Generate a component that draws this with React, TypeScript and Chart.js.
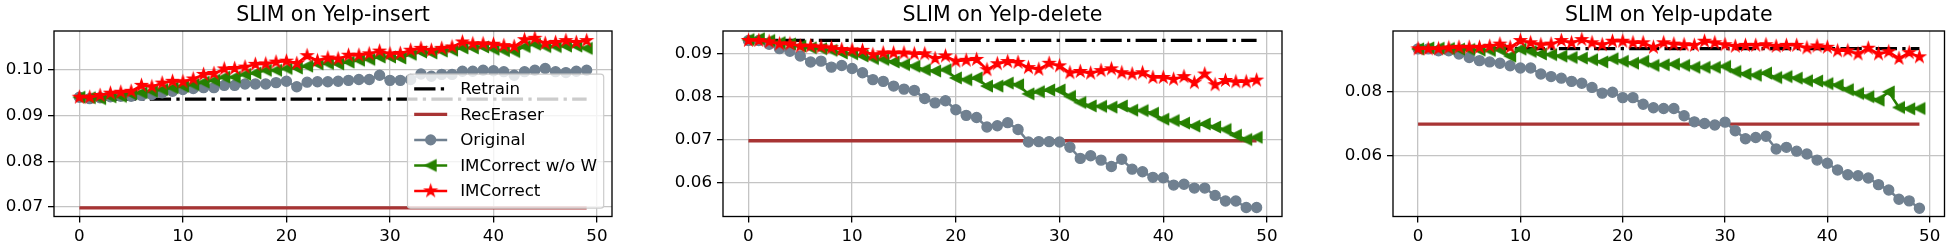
import React, { useEffect, useRef } from 'react';
import { Chart, registerables } from 'chart.js';
Chart.register(...registerables);

const FONT = '"DejaVu Sans", "Liberation Sans", sans-serif';

const steps = [0, 1, 2, 3, 4, 5, 6, 7, 8, 9, 10, 11, 12, 13, 14, 15, 16, 17, 18, 19, 20, 21, 22, 23, 24, 25, 26, 27, 28, 29, 30, 31, 32, 33, 34, 35, 36, 37, 38, 39, 40, 41, 42, 43, 44, 45, 46, 47, 48, 49];
const xTicks = [0, 10, 20, 30, 40, 50];
const xTickLabels = ['0', '10', '20', '30', '40', '50'];

const seriesNames = ['Retrain', 'RecEraser', 'Original', 'IMCorrect w/o W', 'IMCorrect'];

// ---- SLIM on Yelp-insert ----
const insertTitle = 'SLIM on Yelp-insert';
const insertRetrain = 0.0936;
const insertRecEraser = 0.0698;
const insertOriginal = [0.0940, 0.0937, 0.0939, 0.0941, 0.0942, 0.0942, 0.0944, 0.0946, 0.0950, 0.0953, 0.0957, 0.0959, 0.0961, 0.0961, 0.0966, 0.0966, 0.0969, 0.0969, 0.0969, 0.0972, 0.0975, 0.0963, 0.0973, 0.0974, 0.0974, 0.0975, 0.0977, 0.0979, 0.0979, 0.0988, 0.0977, 0.0977, 0.0979, 0.0991, 0.0986, 0.0990, 0.0990, 0.0997, 0.0997, 0.0999, 0.0998, 0.0996, 0.0988, 0.0996, 0.0999, 0.1003, 0.0996, 0.0994, 0.0997, 0.0999];
const insertWoW = [0.0940, 0.0939, 0.0937, 0.0941, 0.0942, 0.0947, 0.0950, 0.0953, 0.0957, 0.0961, 0.0964, 0.0968, 0.0973, 0.0977, 0.0984, 0.0984, 0.0990, 0.0993, 0.0999, 0.0999, 0.1003, 0.1004, 0.1008, 0.1013, 0.1014, 0.1013, 0.1017, 0.1021, 0.1023, 0.1028, 0.1028, 0.1026, 0.1034, 0.1039, 0.1037, 0.1041, 0.1043, 0.1048, 0.1048, 0.1050, 0.1045, 0.1042, 0.1040, 0.1051, 0.1056, 0.1051, 0.1051, 0.1052, 0.1052, 0.1047];
const insertIM = [0.0940, 0.0940, 0.0944, 0.0949, 0.0951, 0.0953, 0.0966, 0.0963, 0.0971, 0.0975, 0.0974, 0.0980, 0.0990, 0.0992, 0.1002, 0.1003, 0.1006, 0.1012, 0.1013, 0.1017, 0.1019, 0.1014, 0.1031, 0.1020, 0.1026, 0.1024, 0.1032, 0.1032, 0.1035, 0.1041, 0.1035, 0.1036, 0.1043, 0.1047, 0.1043, 0.1047, 0.1050, 0.1061, 0.1057, 0.1057, 0.1056, 0.1053, 0.1051, 0.1066, 0.1069, 0.1058, 0.1060, 0.1064, 0.1060, 0.1064];
const insertYTicks = [0.07, 0.08, 0.09, 0.10];
const insertYLabels = ['0.07', '0.08', '0.09', '0.10'];

// ---- SLIM on Yelp-delete ----
const deleteTitle = 'SLIM on Yelp-delete';
const deleteRetrain = 0.0931;
const deleteRecEraser = 0.0698;
const deleteOriginal = [0.0931, 0.0931, 0.0922, 0.0912, 0.0906, 0.0895, 0.0881, 0.0883, 0.0869, 0.0873, 0.0866, 0.0856, 0.0840, 0.0836, 0.0825, 0.0818, 0.0815, 0.0796, 0.0786, 0.0791, 0.0770, 0.0757, 0.0752, 0.0730, 0.0733, 0.0740, 0.0724, 0.0695, 0.0696, 0.0696, 0.0695, 0.0683, 0.0657, 0.0663, 0.0653, 0.0638, 0.0655, 0.0632, 0.0626, 0.0613, 0.0612, 0.0595, 0.0597, 0.0588, 0.0588, 0.0571, 0.0558, 0.0558, 0.0543, 0.0543];
const deleteWoW = [0.0933, 0.0935, 0.0931, 0.0926, 0.0923, 0.0918, 0.0914, 0.0912, 0.0908, 0.0902, 0.0900, 0.0895, 0.0889, 0.0887, 0.0881, 0.0875, 0.0871, 0.0863, 0.0860, 0.0863, 0.0844, 0.0840, 0.0844, 0.0825, 0.0825, 0.0832, 0.0828, 0.0807, 0.0812, 0.0816, 0.0816, 0.0801, 0.0787, 0.0779, 0.0778, 0.0776, 0.0779, 0.0769, 0.0768, 0.0762, 0.0748, 0.0745, 0.0739, 0.0732, 0.0737, 0.0730, 0.0724, 0.0711, 0.0701, 0.0706];
const deleteIM = [0.0931, 0.0931, 0.0928, 0.0923, 0.0923, 0.0918, 0.0918, 0.0916, 0.0914, 0.0910, 0.0909, 0.0908, 0.0898, 0.0902, 0.0902, 0.0902, 0.0900, 0.0900, 0.0889, 0.0895, 0.0883, 0.0885, 0.0887, 0.0863, 0.0877, 0.0882, 0.0880, 0.0868, 0.0864, 0.0878, 0.0872, 0.0856, 0.0859, 0.0855, 0.0861, 0.0865, 0.0856, 0.0853, 0.0856, 0.0845, 0.0845, 0.0841, 0.0847, 0.0833, 0.0853, 0.0828, 0.0838, 0.0835, 0.0835, 0.0839];
const deleteYTicks = [0.06, 0.07, 0.08, 0.09];
const deleteYLabels = ['0.06', '0.07', '0.08', '0.09'];

// ---- SLIM on Yelp-update ----
const updateTitle = 'SLIM on Yelp-update';
const updateRetrain = 0.0935;
const updateRecEraser = 0.0698;
const updateOriginal = [0.0934, 0.0934, 0.0928, 0.0928, 0.0918, 0.0907, 0.0897, 0.0893, 0.0889, 0.0881, 0.0874, 0.0874, 0.0855, 0.0847, 0.0842, 0.0832, 0.0826, 0.0813, 0.0795, 0.0798, 0.0781, 0.0781, 0.0760, 0.0749, 0.0747, 0.0747, 0.0724, 0.0705, 0.0700, 0.0695, 0.0704, 0.0677, 0.0652, 0.0656, 0.0660, 0.0620, 0.0625, 0.0613, 0.0604, 0.0585, 0.0575, 0.0554, 0.0539, 0.0536, 0.0529, 0.0508, 0.0491, 0.0462, 0.0457, 0.0434];
const updateWoW = [0.0934, 0.0937, 0.0936, 0.0935, 0.0933, 0.0932, 0.0930, 0.0929, 0.0931, 0.0911, 0.0933, 0.0926, 0.0918, 0.0916, 0.0911, 0.0907, 0.0905, 0.0900, 0.0893, 0.0903, 0.0895, 0.0889, 0.0895, 0.0882, 0.0884, 0.0886, 0.0882, 0.0876, 0.0876, 0.0876, 0.0879, 0.0863, 0.0855, 0.0851, 0.0858, 0.0844, 0.0847, 0.0842, 0.0834, 0.0833, 0.0825, 0.0820, 0.0806, 0.0794, 0.0784, 0.0773, 0.0799, 0.0750, 0.0746, 0.0747];
const updateIM = [0.0934, 0.0934, 0.0934, 0.0937, 0.0939, 0.0939, 0.0939, 0.0942, 0.0949, 0.0939, 0.0960, 0.0953, 0.0947, 0.0949, 0.0960, 0.0953, 0.0963, 0.0953, 0.0947, 0.0958, 0.0958, 0.0953, 0.0953, 0.0939, 0.0953, 0.0949, 0.0947, 0.0945, 0.0958, 0.0953, 0.0947, 0.0942, 0.0945, 0.0945, 0.0947, 0.0942, 0.0945, 0.0945, 0.0937, 0.0943, 0.0939, 0.0928, 0.0928, 0.0918, 0.0936, 0.0918, 0.0925, 0.0904, 0.0922, 0.0909];
const updateYTicks = [0.06, 0.08];
const updateYLabels = ['0.06', '0.08'];

const COLORS = {
  retrain: '#000000',
  receraser: '#a83434',
  original: '#708090',
  wow: '#268000',
  im: '#ff0000',
};

type PanelSpec = {
  title: string;
  retrain: number;
  receraser: number;
  original: number[];
  wow: number[];
  im: number[];
  yTicks: number[];
  yLabels: string[];
  yMin: number;
  yMax: number;
  left: number;
  width: number;
  axisW: number;
  padRight: number;
  legend: boolean;
};

const panels: PanelSpec[] = [
  { title: insertTitle, retrain: insertRetrain, receraser: insertRecEraser, original: insertOriginal, wow: insertWoW, im: insertIM, yTicks: insertYTicks, yLabels: insertYLabels, yMin: 0.0679, yMax: 0.1085, left: 0, width: 650, axisW: 54, padRight: 38, legend: true },
  { title: deleteTitle, retrain: deleteRetrain, receraser: deleteRecEraser, original: deleteOriginal, wow: deleteWoW, im: deleteIM, yTicks: deleteYTicks, yLabels: deleteYLabels, yMin: 0.0522, yMax: 0.0953, left: 650, width: 650, axisW: 73, padRight: 18, legend: false },
  { title: updateTitle, retrain: updateRetrain, receraser: updateRecEraser, original: updateOriginal, wow: updateWoW, im: updateIM, yTicks: updateYTicks, yLabels: updateYLabels, yMin: 0.0408, yMax: 0.0990, left: 1300, width: 652, axisW: 93, padRight: 2, legend: false },
];

function makeStar(color: string, R: number, lw: number): HTMLCanvasElement {
  const size = Math.ceil(2 * (R + lw)) + 2;
  const c = document.createElement('canvas');
  c.width = size; c.height = size;
  const ctx = c.getContext('2d')!;
  ctx.translate(size / 2, size / 2);
  ctx.beginPath();
  const r = R * 0.381966;
  for (let k = 0; k < 10; k++) {
    const ang = -Math.PI / 2 + (k * Math.PI) / 5;
    const rr = k % 2 === 0 ? R : r;
    ctx.lineTo(rr * Math.cos(ang), rr * Math.sin(ang));
  }
  ctx.closePath();
  ctx.fillStyle = color; ctx.fill();
  ctx.lineWidth = lw; ctx.strokeStyle = color; ctx.lineJoin = 'miter'; ctx.stroke();
  return c;
}

function makeLeftTriangle(color: string, h: number, lw: number): HTMLCanvasElement {
  const size = Math.ceil(2 * (h + lw)) + 2;
  const c = document.createElement('canvas');
  c.width = size; c.height = size;
  const ctx = c.getContext('2d')!;
  ctx.translate(size / 2, size / 2);
  ctx.beginPath();
  ctx.moveTo(-h, 0);
  ctx.lineTo(h, -h);
  ctx.lineTo(h, h);
  ctx.closePath();
  ctx.fillStyle = color; ctx.fill();
  ctx.lineWidth = lw; ctx.strokeStyle = color; ctx.lineJoin = 'miter'; ctx.stroke();
  return c;
}

const RETRAIN_DASH = [21.3, 5.3, 3.3, 5.3];

function toPoints(vals: number[]) {
  return vals.map((v, i) => ({ x: steps[i], y: v }));
}

function PanelChart({ spec }: { spec: PanelSpec }) {
  const ref = useRef<HTMLCanvasElement | null>(null);
  useEffect(() => {
    const canvas = ref.current!;
    const star = makeStar(COLORS.im, 5.5, 1.6);
    const tri = makeLeftTriangle(COLORS.wow, 5.2, 1.6);

    const framePlugin = {
      id: 'frame',
      afterDatasetsDraw(chart: any) {
        const { ctx, chartArea: a } = chart;
        ctx.save();
        ctx.strokeStyle = '#000';
        ctx.lineWidth = 1.33;
        ctx.strokeRect(a.left, a.top, a.right - a.left, a.bottom - a.top);
        ctx.restore();
      },
    };

    const titlePlugin = {
      id: 'ptitle',
      afterDraw(chart: any) {
        const { ctx, chartArea: a } = chart;
        ctx.save();
        ctx.font = `20.5px ${FONT}`;
        ctx.fillStyle = '#000';
        ctx.textAlign = 'center';
        ctx.textBaseline = 'alphabetic';
        ctx.fillText(spec.title, (a.left + a.right) / 2, a.top - 10);
        ctx.restore();
      },
    };

    const legendPlugin = {
      id: 'plegend',
      afterDraw(chart: any) {
        if (!spec.legend) return;
        const { ctx, chartArea: a } = chart;
        const fs = 16.7;
        ctx.save();
        ctx.font = `${fs}px ${FONT}`;
        const pad = 6.7;
        const handleLen = 33;
        const handlePad = 13;
        let maxW = 0;
        seriesNames.forEach((n) => { maxW = Math.max(maxW, ctx.measureText(n).width); });
        const w = pad + handleLen + handlePad + maxW + pad;
        const h = 134;
        const right = a.right - 8.3;
        const bottom = a.bottom - 8.3;
        const left = right - w;
        const top = bottom - h;
        ctx.beginPath();
        (ctx as any).roundRect(left, top, w, h, 3);
        ctx.fillStyle = 'rgba(255,255,255,0.8)';
        ctx.fill();
        ctx.lineWidth = 1.2;
        ctx.strokeStyle = '#cccccc';
        ctx.stroke();
        const hx0 = left + pad;
        const hx1 = hx0 + handleLen;
        const hc = (hx0 + hx1) / 2;
        seriesNames.forEach((name, k) => {
          const y = top + 14.7 + 25.5 * k;
          ctx.save();
          ctx.beginPath();
          ctx.lineCap = 'butt';
          if (k === 0) {
            ctx.strokeStyle = COLORS.retrain; ctx.lineWidth = 3.3; ctx.setLineDash(RETRAIN_DASH);
          } else if (k === 1) {
            ctx.strokeStyle = COLORS.receraser; ctx.lineWidth = 3.3;
          } else if (k === 2) {
            ctx.strokeStyle = COLORS.original; ctx.lineWidth = 2.5;
          } else if (k === 3) {
            ctx.strokeStyle = COLORS.wow; ctx.lineWidth = 2.5;
          } else {
            ctx.strokeStyle = COLORS.im; ctx.lineWidth = 2.5;
          }
          ctx.moveTo(hx0, y); ctx.lineTo(hx1, y); ctx.stroke();
          ctx.restore();
          if (k === 2) {
            ctx.beginPath(); ctx.arc(hc, y, 5.6, 0, Math.PI * 2); ctx.fillStyle = COLORS.original; ctx.fill();
          } else if (k === 3) {
            ctx.drawImage(tri, hc - tri.width / 2, y - tri.height / 2);
          } else if (k === 4) {
            ctx.drawImage(star, hc - star.width / 2, y - star.height / 2);
          }
          ctx.fillStyle = '#000';
          ctx.textAlign = 'left';
          ctx.textBaseline = 'middle';
          ctx.fillText(name, hx1 + handlePad, y + 1);
        });
        ctx.restore();
      },
    };

    const first = steps[0];
    const last = steps[steps.length - 1];

    const chart = new Chart(canvas, {
      type: 'line',
      data: {
        datasets: [
          { label: seriesNames[0], data: [{ x: first, y: spec.retrain }, { x: last, y: spec.retrain }], borderColor: COLORS.retrain, borderWidth: 3.3, borderDash: RETRAIN_DASH, borderCapStyle: 'butt', pointRadius: 0, order: 5 },
          { label: seriesNames[1], data: [{ x: first, y: spec.receraser }, { x: last, y: spec.receraser }], borderColor: COLORS.receraser, borderWidth: 3.3, pointRadius: 0, order: 4 },
          { label: seriesNames[2], data: toPoints(spec.original), borderColor: COLORS.original, borderWidth: 2.5, pointStyle: 'circle', pointRadius: 5, pointBorderWidth: 1.4, pointBackgroundColor: COLORS.original, pointBorderColor: COLORS.original, order: 3 },
          { label: seriesNames[3], data: toPoints(spec.wow), borderColor: COLORS.wow, borderWidth: 2.5, pointStyle: tri as any, pointRadius: 5, order: 2 },
          { label: seriesNames[4], data: toPoints(spec.im), borderColor: COLORS.im, borderWidth: 2.5, pointStyle: star as any, pointRadius: 5, order: 1 },
        ] as any,
      },
      options: {
        responsive: false,
        maintainAspectRatio: false,
        animation: false,
        devicePixelRatio: 1,
        events: [],
        layout: { padding: { top: 31, right: spec.padRight, bottom: 0, left: 0 } },
        elements: { line: { tension: 0, fill: false } },
        plugins: { legend: { display: false }, tooltip: { enabled: false }, title: { display: false } },
        scales: {
          x: {
            type: 'linear',
            min: -2.45,
            max: 51.45,
            afterBuildTicks: (s: any) => { s.ticks = xTicks.map((v) => ({ value: v })); },
            afterFit: (s: any) => { s.height = 33.5; },
            ticks: {
              autoSkip: false,
              maxRotation: 0,
              padding: 4,
              color: '#000',
              font: { family: FONT, size: 16.7 },
              callback: (_v: any, i: number) => xTickLabels[i],
            },
            grid: { color: '#c4c4c4', lineWidth: 1.3, tickColor: '#000', tickLength: 6, tickWidth: 1.3 },
            border: { display: false },
          },
          y: {
            type: 'linear',
            min: spec.yMin,
            max: spec.yMax,
            afterBuildTicks: (s: any) => { s.ticks = spec.yTicks.map((v) => ({ value: v })); },
            afterFit: (s: any) => { s.width = spec.axisW; },
            ticks: {
              autoSkip: false,
              padding: 5,
              color: '#000',
              font: { family: FONT, size: 16.7 },
              callback: (_v: any, i: number) => spec.yLabels[i],
            },
            grid: { color: '#c4c4c4', lineWidth: 1.3, tickColor: '#000', tickLength: 6, tickWidth: 1.3 },
            border: { display: false },
          },
        },
      } as any,
      plugins: [framePlugin, titlePlugin, legendPlugin],
    });
    return () => chart.destroy();
  }, [spec]);
  return (
    <canvas
      ref={ref}
      width={spec.width}
      height={250}
      style={{ position: 'absolute', left: spec.left, top: 0, width: spec.width, height: 250 }}
    />
  );
}

export default function App() {
  return (
    <div style={{ position: 'absolute', left: 0, top: 0, width: 1952, height: 250, background: '#fff', overflow: 'hidden' }}>
      {panels.map((p, i) => (
        <PanelChart key={i} spec={p} />
      ))}
    </div>
  );
}
